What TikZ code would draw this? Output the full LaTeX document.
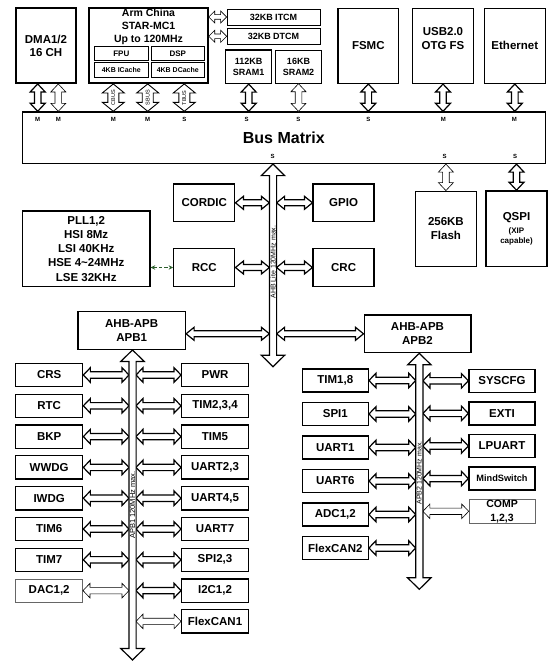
\documentclass[tikz,border=0pt]{standalone}
\usepackage{fontspec}
\setmainfont{Liberation Sans}
\usetikzlibrary{calc,arrows.meta}
\definecolor{pllgreen}{RGB}{45,95,45}
\newcommand\bsz[2]{\fontsize{#1}{#2}\selectfont\bfseries}

\begin{document}
\begin{tikzpicture}[x=1pt,y=-1pt,
  shaft/.store in=\fatw, headw/.store in=\fath, headl/.store in=\fatl,
  shaft=3.3pt, headw=7.5pt, headl=8pt,
  fat/.style={draw,fill=white,line width=1.2pt,line join=miter,to path={
    -- ($(\tikztostart)!\fatl!(\tikztotarget)!\fath!90:(\tikztotarget)$)
    -- ($(\tikztostart)!\fatl!(\tikztotarget)!\fatw!90:(\tikztotarget)$)
    -- ($(\tikztotarget)!\fatl!(\tikztostart)!\fatw!-90:(\tikztostart)$)
    -- ($(\tikztotarget)!\fatl!(\tikztostart)!\fath!-90:(\tikztostart)$)
    -- (\tikztotarget)
    -- ($(\tikztotarget)!\fatl!(\tikztostart)!\fath!90:(\tikztostart)$)
    -- ($(\tikztotarget)!\fatl!(\tikztostart)!\fatw!90:(\tikztostart)$)
    -- ($(\tikztostart)!\fatl!(\tikztotarget)!\fatw!-90:(\tikztotarget)$)
    -- ($(\tikztostart)!\fatl!(\tikztotarget)!\fath!-90:(\tikztotarget)$)
    -- cycle}},
  thinline/.style={line width=0.6pt},
  hsz/.style={shaft=3.2pt,headw=7.3pt,headl=7pt},
  midsz/.style={shaft=3pt,headw=6.5pt,headl=8pt},
  tcmsz/.style={shaft=2.3pt,headw=6pt,headl=6pt},
  cbsz/.style={shaft=5.5pt,headw=11pt,headl=9pt},
  bussz/.style={shaft=3.6pt,headw=11.7pt,headl=11.5pt},
  box/.style={draw,line width=1.3pt,inner sep=0pt,align=center,font=\bsz{11.5}{14}},
  heavy/.style={line width=1.5pt},
  light/.style={line width=0.7pt},
  faint/.style={line width=0.6pt,draw=black!60},
  wh/.style 2 args={minimum width=#1pt,minimum height=#2pt},
  txt/.style={inner sep=0pt,align=center},
  ms/.style={inner sep=0pt,font=\bsz{6}{6}},
  buslbl/.style={inner sep=0pt,rotate=90,font=\fontsize{7}{7}\selectfont},
]
\useasboundingbox (0,0) rectangle (555,669);

% top row
\node[box,heavy,wh={60}{75}] (dma) at (46,45.7) {DMA1/2\\[-0.5pt]16 CH};
\node[box,heavy,wh={119}{75}] (arm) at (148.5,45.7) {};
\node[txt,font=\bsz{10.5}{13}] (armtxt) at (148.5,26.6) {Arm China\\STAR-MC1\\Up to 120MHz};
\node[box,light,wh={53.3}{14.7},font=\bsz{8}{8}] (fpu) at (121.3,53.3) {FPU};
\node[box,light,wh={53}{14.7},font=\bsz{8}{8}] (dsp) at (177.8,53.3) {DSP};
\node[box,light,wh={53.3}{14.7},font=\bsz{7}{7}] (icache) at (121.3,70) {4KB ICache};
\node[box,light,wh={53}{14.7},font=\bsz{7}{7}] (dcache) at (177.8,70) {4KB DCache};
\node[box,light,wh={93}{16},font=\bsz{9}{9}] (itcm) at (273.5,17) {32KB ITCM};
\node[box,light,wh={93}{16},font=\bsz{9}{9}] (dtcm) at (273.5,36.3) {32KB DTCM};
\node[box,heavy,wh={46}{33.3},font=\bsz{9}{11}] (sram1) at (248.7,66.7) {112KB\\SRAM1};
\node[box,light,wh={46}{33.3},font=\bsz{9}{11}] (sram2) at (298.5,66.7) {16KB\\SRAM2};
\node[box,heavy,wh={60.7}{75}] (fsmc) at (368.3,45.8) {FSMC};
\node[box,heavy,wh={60.7}{75}] (usb) at (443,45.8) {};
\node[txt,font=\bsz{11.5}{13.3}] (usbtxt) at (443,38.5) {USB2.0\\OTG FS};
\node[box,heavy,wh={61}{75}] (eth) at (514.8,45.8) {Ethernet};
\node[box,heavy,wh={523}{51.3},font=\bsz{16}{16}] (bus) at (283.8,137.7) {Bus Matrix};

\draw[fat] ([xshift=-8.3pt]dma.south) to ([xshift=-8.3pt]dma.south |- bus.north);
\draw[fat,thinline] ([xshift=12.3pt]dma.south) to ([xshift=12.3pt]dma.south |- bus.north);
\draw[fat,cbsz,line width=0.9pt] ([xshift=-35.2pt]arm.south) to ([xshift=-35.2pt]arm.south |- bus.north);
\draw[fat,cbsz,line width=0.9pt] ([xshift=-0.8pt]arm.south) to ([xshift=-0.8pt]arm.south |- bus.north);
\draw[fat,cbsz,line width=0.9pt] ([xshift=35.8pt]arm.south) to ([xshift=35.8pt]arm.south |- bus.north);
\node[buslbl,font=\fontsize{5.5}{5.5}\selectfont] (cbus) at (113.3,97.7) {CBUS};
\node[buslbl,font=\fontsize{5.5}{5.5}\selectfont] (sbus) at (147.7,97.7) {SBUS};
\node[buslbl,font=\fontsize{5.5}{5.5}\selectfont] (tbus) at (184.3,97.7) {TBUS};
\draw[fat,tcmsz,thinline] (arm.east |- itcm.west) to (itcm.west);
\draw[fat,tcmsz,thinline] (arm.east |- dtcm.west) to (dtcm.west);
\draw[fat] (sram1.south) to (sram1.south |- bus.north);
\draw[fat,thinline] (sram2.south) to (sram2.south |- bus.north);
\draw[fat] (fsmc.south) to (fsmc.south |- bus.north);
\draw[fat] (usb.south) to (usb.south |- bus.north);
\draw[fat] (eth.south) to (eth.south |- bus.north);

\foreach \x/\t [count=\k] in {37.7/M,58.3/M,113.3/M,147.7/M,184.3/S,246.7/S,298.3/S,368.3/S,443.3/M,514.3/M}
  \node[ms] (mst\k) at (\x,119.5) {\t};
\foreach \x [count=\k] in {272.7,444.7,515}
  \node[ms] (msb\k) at (\x,156) {S};

% AHB lite
\node[box,wh={61}{37.7}] (cordic) at (204.3,202.8) {CORDIC};
\node[box,wh={61}{37.7}] (gpio) at (343.6,202.8) {GPIO};
\node[box,wh={61}{38.4}] (rcc) at (204.3,267.5) {RCC};
\node[box,wh={61}{38.4}] (crc) at (343.6,267.5) {CRC};
\node[box,wh={127.7}{75.7},font=\bsz{11.5}{14.2}] (pll) at (86.2,248.8) {PLL1,2\\HSI 8Mz\\LSI 40KHz\\HSE 4\textasciitilde24MHz\\LSE 32KHz};
\node[box,light,wh={60.6}{75.7}] (flash) at (445.9,228.8) {256KB\\Flash};
\node[box,heavy,wh={61.4}{75.7},font=\bsz{11.5}{13}] (qspi) at (516.5,228.8) {QSPI\\[-0.2pt]{\bsz{8}{8}(XIP}\\[-2.7pt]{\bsz{8}{8}capable)}};
\node[box,wh={107.5}{37.6}] (apb1) at (131.7,330.5) {AHB-APB\\APB1};
\node[box,wh={106.7}{37.7}] (apb2) at (417.5,333.8) {AHB-APB\\APB2};

\draw[fat,thinline] (bus.south -| flash.north) to (flash.north);
\draw[fat] (bus.south -| qspi.north) to (qspi.north);

\coordinate (ahbend) at (273,366.7);
\coordinate (ahbw) at (269.4,0);
\coordinate (ahbe) at (276.6,0);
\draw[fat,midsz] (cordic.east) to (cordic.east -| ahbw);
\draw[fat,midsz] (ahbe |- gpio.west) to (gpio.west);
\draw[fat,midsz] (rcc.east) to (rcc.east -| ahbw);
\draw[fat,midsz] (ahbe |- crc.west) to (crc.west);
\draw[fat,midsz] (apb1.east |- apb2.west) to (apb2.west -| ahbw);
\draw[fat,midsz] (ahbe |- apb2.west) to (apb2.west);
\draw[fat,bussz] (bus.south -| ahbend) to (ahbend);
\node[buslbl] (ahblbl) at (273,262) {AHB Lite 120MHz max.};
\draw[pllgreen,line width=0.9pt,dash pattern=on 3.5pt off 2pt,{Stealth[length=4.5pt,width=4.5pt]}-{Stealth[length=4.5pt,width=4.5pt]}]
  (pll.east |- rcc.west) -- (rcc.west);

% APB1
\coordinate (b1end) at (132.5,660);
\coordinate (b1w) at (129,0);
\coordinate (b1e) at (136,0);
\foreach \t [count=\i from 0] in {CRS,RTC,BKP,WWDG,IWDG,TIM6,TIM7} {
  \node[box,wh={67}{23.3}] (l\i) at (49.2,{375+30.8*\i}) {\t};
  \draw[fat,hsz] (l\i.east) to (l\i.east -| b1w);
}
\node[box,faint,wh={67}{23.3}] (dac) at (49.2,590.6) {DAC1,2};
\draw[fat,hsz,thinline] (dac.east) to (dac.east -| b1w);
\foreach \t [count=\i from 0] in {PWR,{TIM2,3,4},TIM5,{UART2,3},{UART4,5},UART7,{SPI2,3},{I2C1,2}} {
  \node[box,wh={66.6}{23.3}] (r\i) at (215,{375+30.8*\i}) {\t};
  \draw[fat,hsz] (b1e |- r\i.west) to (r\i.west);
}
\node[box,wh={66.6}{23.3}] (can1) at (215,621.4) {FlexCAN1};
\draw[fat,hsz,thinline] (b1e |- can1.west) to (can1.west);
\draw[fat,bussz] (apb1.south -| b1end) to (b1end);
\node[buslbl,font=\fontsize{7.5}{7.5}\selectfont] (apb1lbl) at (132.5,505) {APB1 120MHz max.};

% APB2
\coordinate (b2end) at (419.3,589.3);
\coordinate (b2w) at (415.7,0);
\coordinate (b2e) at (422.9,0);
\foreach \t [count=\i from 0] in {{TIM1,8},SPI1,UART1,UART6,{ADC1,2},FlexCAN2} {
  \node[box,wh={66}{23}] (m\i) at (335.3,{380.5+33.5*\i}) {\t};
  \draw[fat,hsz] (m\i.east) to (m\i.east -| b2w);
}
\foreach \t [count=\i from 0] in {SYSCFG,EXTI,LPUART} {
  \node[box,wh={66}{23}] (n\i) at (502,{380.8+32.6*\i}) {\t};
  \draw[fat,hsz] (b2e |- n\i.west) to (n\i.west);
}
\node[box,wh={66}{23},font=\bsz{9.2}{9.2}] (mind) at (502,478.6) {MindSwitch};
\draw[fat,hsz] (b2e |- mind.west) to (mind.west);
\node[box,faint,wh={66}{24},font=\bsz{10.5}{14}] (comp) at (502,511.3) {COMP\\1,2,3};
\draw[fat,hsz,thinline] (b2e |- comp.west) to (comp.west);
\draw[fat,bussz] (apb2.south -| b2end) to (b2end);
\node[buslbl] (apb2lbl) at (419.3,473) {APB2 120MHz max.};
\end{tikzpicture}
\end{document}
